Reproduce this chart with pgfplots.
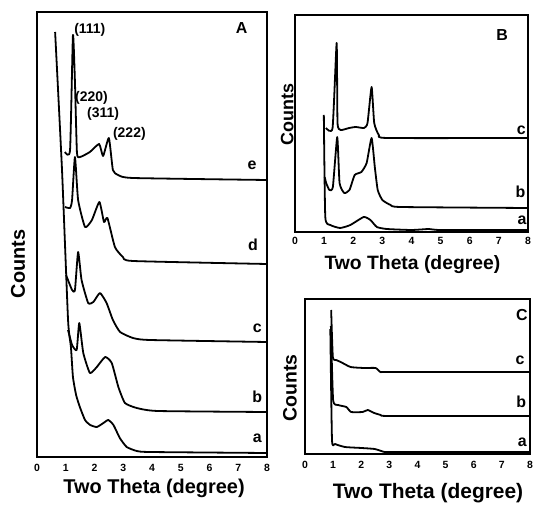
\documentclass[border=0pt]{standalone}
\usepackage{fontspec}
\setmainfont{Liberation Sans}
\usepackage{pgfplots}
\pgfplotsset{compat=1.18}
\newcommand{\fs}[1]{\bfseries\fontsize{#1}{#1}\selectfont}
\begin{document}
\begin{tikzpicture}
\useasboundingbox (0bp,0bp) rectangle (535bp,507bp);
\pgfplotsset{
  panel/.style={
    scale only axis, anchor=south west, clip=false,
    xmin=0, xmax=8, ymin=0,
    xtick={0,1,...,8}, ytick=\empty,
    major tick length=0pt,
    axis line style={line width=1.7bp},
    tick label style={font=\fs{10.5}},
    /pgf/number format/assume math mode=true,
    every axis plot post/.append style={line width=1.8bp, black, line join=round, mark=none, smooth, tension=0.3},
  },
}
% ---------------- Panel A ----------------
\begin{axis}[panel, at={(37bp,50bp)}, width=230bp, height=445bp, ymax=445,
  xlabel={Two Theta (degree)}, ylabel={Counts},
  xlabel style={font=\fs{20}, at={(axis description cs:0.509,0)}, anchor=center, yshift=-31bp},
  ylabel style={font=\fs{20}, at={(axis description cs:-0.083,0.434)}, anchor=center},
  xticklabel style={yshift=-4bp}]
% a
\addplot coordinates {(0.63,425)(0.87,287)(1.08,137)(1.18,110)(1.25,80)(1.36,62)(1.49,50)(1.67,37)(1.85,32)(2.08,30)(2.31,34)(2.48,37)(2.66,32)(2.88,19)(3.12,10)(3.47,6)(3.93,5)(8.0,4)};
% b
\addplot coordinates {(1.08,127)(1.22,112)(1.38,107)(1.47,134)(1.61,104)(1.84,84)(2.08,90)(2.37,100)(2.60,94)(2.83,70)(3.06,54)(3.47,49)(4.2,46)(8.0,45)};
% c
\addplot coordinates {(1.01,182)(1.22,167)(1.32,167)(1.43,205)(1.55,177)(1.78,154)(1.96,155)(2.19,164)(2.42,154)(2.64,137)(2.89,125)(3.34,119)(3.93,117)(8.0,115)};
% d
\addplot coordinates {(0.97,250)(1.15,249)(1.22,257)(1.32,300)(1.43,257)(1.67,230)(1.91,237)(2.17,255)(2.33,235)(2.45,239)(2.71,210)(2.99,200)(3.34,196)(8.0,193)};
% e
\addplot coordinates {(0.97,305)(1.15,307)(1.25,422)(1.32,375)(1.39,304)(1.50,300)(1.84,305)(2.16,313)(2.30,301)(2.50,319)(2.64,287)(2.82,282)(3.34,279)(8.0,277)};
\node[font=\fs{14}, anchor=west, inner sep=0pt] at (axis cs:1.29,427) {(111)};
\node[font=\fs{14}, anchor=west, inner sep=0pt] at (axis cs:1.32,359) {(220)};
\node[font=\fs{14}, anchor=west, inner sep=0pt] at (axis cs:1.74,343) {(311)};
\node[font=\fs{14}, anchor=west, inner sep=0pt] at (axis cs:2.64,323) {(222)};
\node[font=\fs{16}] at (axis cs:7.12,429) {A};
\node[font=\fs{16}] at (axis cs:7.48,292) {e};
\node[font=\fs{16}] at (axis cs:7.51,212) {d};
\node[font=\fs{16}] at (axis cs:7.66,129) {c};
\node[font=\fs{16}] at (axis cs:7.66,60) {b};
\node[font=\fs{16}] at (axis cs:7.66,19) {a};
\end{axis}
% ---------------- Panel B ----------------
\begin{axis}[panel, at={(295bp,275bp)}, width=233bp, height=217bp, ymax=217,
  xlabel={Two Theta (degree)}, ylabel={Counts},
  xlabel style={font=\fs{19.4}, at={(axis description cs:0.504,0)}, anchor=center, yshift=-33bp},
  ylabel style={font=\fs{18}, at={(axis description cs:-0.034,0.54)}, anchor=center},
  xticklabel style={yshift=-2bp}]
\addplot coordinates {(0.99,117)(1.04,15)(1.21,7)(1.55,4)(1.90,7)(2.36,15)(2.59,12)(2.81,5)(3.15,3)(4.0,2)(4.6,3)(5.0,2)(8.0,2)};
\addplot coordinates {(1.02,55)(1.07,49)(1.18,42)(1.30,45)(1.45,95)(1.53,49)(1.69,39)(1.87,42)(2.05,57)(2.28,60)(2.46,69)(2.63,94)(2.74,65)(2.84,42)(3.00,32)(3.28,27)(3.63,25)(8.0,24)};
\addplot coordinates {(1.06,104)(1.29,104)(1.43,189)(1.46,109)(1.57,102)(1.86,104)(2.09,105)(2.37,104)(2.49,109)(2.63,145)(2.72,109)(2.88,97)(3.17,94)(8.0,94)};
\node[font=\fs{16}] at (axis cs:7.11,197) {B};
\node[font=\fs{16}] at (axis cs:7.77,102) {c};
\node[font=\fs{16}] at (axis cs:7.74,40) {b};
\node[font=\fs{16}] at (axis cs:7.80,12) {a};
\end{axis}
% ---------------- Panel C ----------------
\begin{axis}[panel, at={(305bp,53bp)}, width=225bp, height=155bp, ymax=155,
  xlabel={Two Theta (degree)}, ylabel={Counts},
  xlabel style={font=\fs{21}, at={(axis description cs:0.547,0)}, anchor=center, yshift=-39bp},
  ylabel style={font=\fs{19.5}, at={(axis description cs:-0.067,0.426)}, anchor=center},
  xticklabel style={yshift=-4bp}]
\addplot coordinates {(0.90,125)(0.96,14)(1.07,10)(1.42,7)(2.01,6)(2.48,5)(2.83,2)(3.2,2)(8.0,2)};
\addplot coordinates {(0.92,128)(1.00,54)(1.18,49)(1.47,47)(1.64,42)(2.05,42)(2.23,44)(2.46,41)(2.70,39)(3.0,38)(8.0,38)};
\addplot coordinates {(0.93,144)(0.99,97)(1.11,94)(1.27,92)(1.62,87)(2.10,86)(2.51,86)(2.68,82)(3.0,82)(8.0,82)};
\node[font=\fs{16}] at (axis cs:7.71,139) {C};
\node[font=\fs{16}] at (axis cs:7.65,94) {c};
\node[font=\fs{16}] at (axis cs:7.69,52) {b};
\node[font=\fs{16}] at (axis cs:7.73,12) {a};
\end{axis}
\end{tikzpicture}
\end{document}
